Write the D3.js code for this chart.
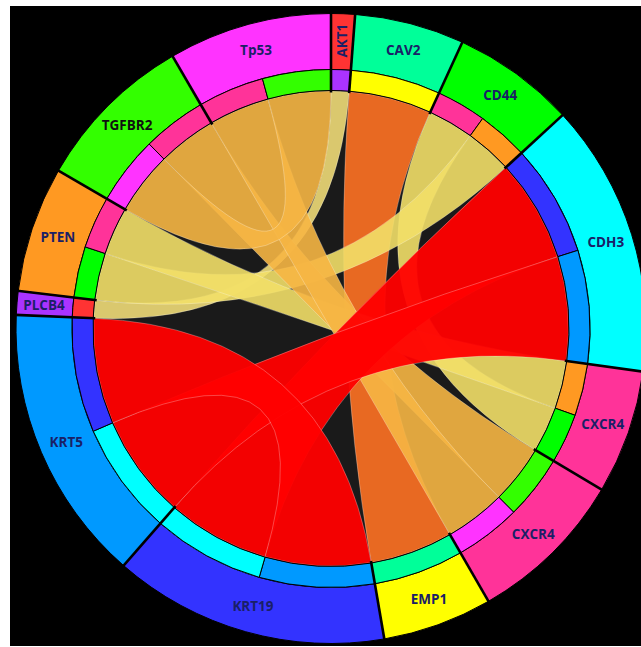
<!DOCTYPE html>
<html><head><meta charset="utf-8">
<script src="https://cdn.jsdelivr.net/npm/d3@7"></script>
<style>body{margin:0;background:#fff}svg{display:block}</style>
</head><body>
<svg id="c" width="641" height="647"></svg>
<script>
// ---- data ----
const genes = ["AKT1","CAV2","CD44","CDH3","CXCR4","CXCR4","EMP1","KRT19","KRT5","PLCB4","PTEN","TGFBR2","Tp53"];
const geneColors = ["#ff3333","#00ff99","#00ff00","#00ffff","#ff3399","#ff3399","#ffff00","#3333ff","#0099ff","#aa33ff","#ff9922","#33ff00","#ff33ff"];
const labelColors = ["#1a2066","#1a2066","#1a2066","#1a2066","#1a2066","#1a2066","#1a2066","#1a2066","#1a2066","#1a2066","#1a2066","#111111","#1a2066"];
const linkSource = [0, 1, 2, 2, 4, 5, 5, 11, 3, 3, 7];
const linkTarget = [9, 6, 4, 10, 10, 11, 12, 12, 7, 8, 8];
const linkValue  = [4.4, 20.25, 11.2, 11.5, 11.7, 14.4, 14.85, 15.35, 25.1, 25.45, 25.85];
const linkColor  = ["#f0dc78","#ff7224","#f2df68","#f2df68","#f2df68","#f6b644","#f6b644","#f6b644","#ff0000","#ff0000","#ff0000"];
const linkOpacity = [0.9,0.9,0.9,0.9,0.9,0.9,0.9,0.9,0.95,0.95,0.95];

// ---- layout ----
const W = 641, H = 647;
const cx = 331, cy = 328.5;
const rOuter = 315, rMid = 259, rInner = 238;
const n = genes.length;
const totals = genes.map((g,i)=> d3.sum(linkValue.filter((v,k)=>linkSource[k]===i||linkTarget[k]===i)));
const grand = d3.sum(totals);
const angle = d3.scaleLinear().domain([0, grand]).range([0, 2*Math.PI]);

let cum = 0;
const groupsLayout = [];
const ends = {};
genes.forEach((g,i)=>{
  const start = cum;
  const partners = [];
  linkValue.forEach((v,k)=>{
    if (linkSource[k]===i) partners.push({k, j: linkTarget[k], v});
    else if (linkTarget[k]===i) partners.push({k, j: linkSource[k], v});
  });
  partners.sort((a,b)=> ((a.j - i + n) % n) - ((b.j - i + n) % n));
  partners.forEach(p=>{
    ends[p.k+"-"+i] = {index:i, partner:p.j, startAngle: angle(cum), endAngle: angle(cum+p.v)};
    cum += p.v;
  });
  groupsLayout.push({index:i, startAngle: angle(start), endAngle: angle(cum)});
});

const svg = d3.select("#c");
svg.append("rect").attr("x",10).attr("y",6).attr("width",W-10).attr("height",640).attr("fill","#000");
const g = svg.append("g").attr("transform",`translate(${cx},${cy})`);

g.append("circle").attr("r", rInner).attr("fill","#1a1a1a");

// ribbons
const ribbon = d3.ribbon().radius(rInner - 0.5);
const chords = linkValue.map((v,k)=>({
  k,
  source: ends[k+"-"+linkSource[k]],
  target: ends[k+"-"+linkTarget[k]]
}));
g.append("g").selectAll("path").data(chords).join("path")
  .attr("d", ribbon)
  .attr("fill", d=>linkColor[d.k])
  .attr("fill-opacity", d=>linkOpacity[d.k])
  .attr("stroke","rgba(255,255,255,0.35)")
  .attr("stroke-width",0.8);

// outer ring
const arcOuter = d3.arc().innerRadius(rMid).outerRadius(rOuter);
g.append("g").selectAll("path").data(groupsLayout).join("path")
  .attr("d", arcOuter)
  .attr("fill", d=>geneColors[d.index])
  .attr("stroke","#000").attr("stroke-width",1);

// inner ring
const arcInner = d3.arc().innerRadius(rInner).outerRadius(rMid);
g.append("g").selectAll("path").data(Object.values(ends)).join("path")
  .attr("d", arcInner)
  .attr("fill", d=>geneColors[d.partner])
  .attr("stroke","#000").attr("stroke-width",1);

// group boundaries
g.append("g").selectAll("line").data(groupsLayout).join("line")
  .each(function(d){
    const p0 = d3.pointRadial(d.startAngle, rInner - 2);
    const p1 = d3.pointRadial(d.startAngle, rOuter + 1);
    d3.select(this).attr("x1",p0[0]).attr("y1",p0[1]).attr("x2",p1[0]).attr("y2",p1[1]);
  })
  .attr("stroke","#000").attr("stroke-width",2.6);

// labels
g.append("g").selectAll("text").data(groupsLayout).join("text")
  .attr("transform", d=>{
    const a = (d.startAngle+d.endAngle)/2;
    const p = d3.pointRadial(a, 288);
    return `translate(${p[0]},${p[1]})` + (genes[d.index]==="AKT1" ? " rotate(-90)" : "");
  })
  .attr("text-anchor","middle")
  .attr("dominant-baseline","central")
  .attr("font-family","'Open Sans', sans-serif")
  .attr("font-weight",700)
  .attr("font-size",13.5)
  .attr("fill", d=>labelColors[d.index])
  .text(d=>genes[d.index]);
</script>
</body></html>
